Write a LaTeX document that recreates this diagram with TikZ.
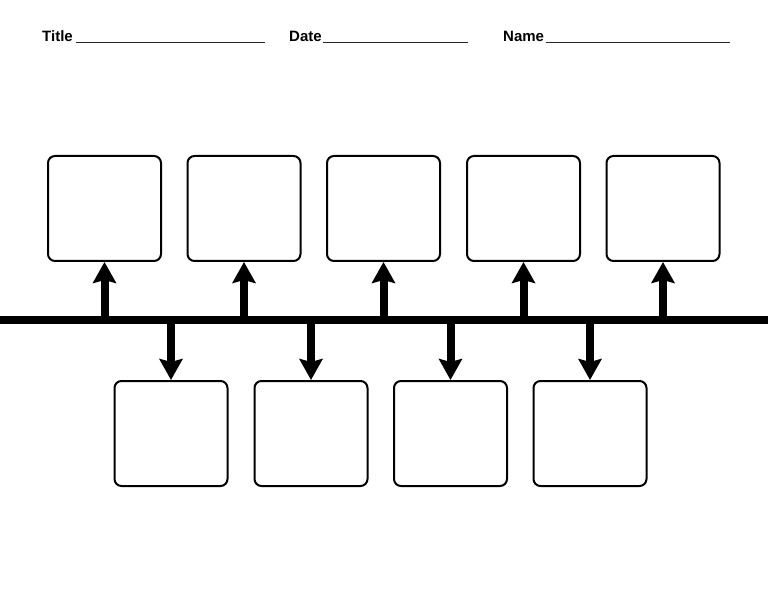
\documentclass[tikz,border=0pt]{standalone}
\usepackage{fontspec}
\setmainfont{Liberation Sans}
\usetikzlibrary{arrows.meta}
\begin{document}
\begin{tikzpicture}[x=1pt,y=-1pt,
  card/.style={draw,line width=2pt,rounded corners=7pt,minimum width=113pt,minimum height=105pt,inner sep=0pt},
  lbl/.style={font=\bfseries\fontsize{15}{18}\selectfont,inner sep=0pt,anchor=base west},
  blank/.style={line width=1.8pt,draw=black!85},
  axis/.style={line width=8pt},
  tick/.style={line width=8pt,-{Stealth[width=23pt,length=21pt,inset=3pt]}}]
\useasboundingbox (0,0) rectangle (768,593);
% header
\node[lbl] (t) at (42,42) {Title};
\node[lbl] (d) at (289,42) {Date};
\node[lbl] (n) at (503,42) {Name};
\coordinate (t1) at (76,42.5); \coordinate (t2) at (265,42.5);
\coordinate (d1) at (323,42.5); \coordinate (d2) at (468,42.5);
\coordinate (n1) at (546,42.5); \coordinate (n2) at (730,42.5);
\draw[blank] (t1) -- (t2);
\draw[blank] (d1) -- (d2);
\draw[blank] (n1) -- (n2);
% timeline
\coordinate (L) at (0,320); \coordinate (R) at (768,320);
\draw[axis] (L) -- (R);
% top boxes
\foreach \i/\x in {1/104.5,2/244,3/383.5,4/523.5,5/663}{
  \node[card] (u\i) at (\x,208.5) {};
  \coordinate (ua\i) at (\x,320);
  \draw[tick] (ua\i) -- (u\i.south);
}
% bottom boxes
\foreach \i/\x in {1/171,2/311,3/450.5,4/590}{
  \node[card] (b\i) at (\x,433.5) {};
  \coordinate (ba\i) at (\x,320);
  \draw[tick] (ba\i) -- (b\i.north);
}
\end{tikzpicture}
\end{document}
